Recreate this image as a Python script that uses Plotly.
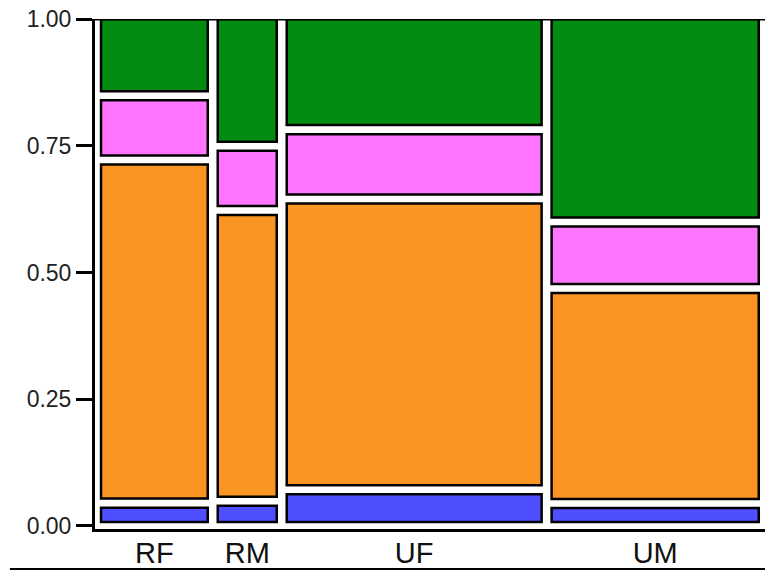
import plotly.graph_objects as go

# Mosaic of four groups; each column is split into four stacked levels.
groups = ["RF", "RM", "UF", "UM"]
group_share = [0.170, 0.094, 0.406, 0.330]  # relative column widths

# Conditional proportions within each group, bottom to top
level_names = ["Level 1", "Level 2", "Level 3", "Level 4"]
level1 = [0.030, 0.034, 0.058, 0.029]
level2 = [0.702, 0.592, 0.592, 0.433]
level3 = [0.116, 0.116, 0.127, 0.121]
level4 = [0.152, 0.258, 0.223, 0.417]
level_colors = ["#4F4FFF", "#FA9423", "#FF75FF", "#038C12"]

tick_vals = [0, 0.25, 0.5, 0.75, 1.0]
tick_text = ["0.00", "0.25", "0.50", "0.75", "1.00"]

# Spacing between tiles (in axis units)
x_start, x_gap, x_span = 0.009, 0.0149, 0.937
y_start, y_gap = 0.008, 0.0178
y_span = 1.0 - y_start - 3 * y_gap

# Column geometry
total_share = sum(group_share)
widths, centers = [], []
pos = x_start
for s in group_share:
    w = s / total_share * x_span
    widths.append(w)
    centers.append(pos + w / 2)
    pos += w + x_gap

levels = [level1, level2, level3, level4]
fig = go.Figure()
for j, col in enumerate(levels):
    bases, heights = [], []
    for g in range(len(groups)):
        col_total = sum(lv[g] for lv in levels)
        below = sum(levels[k][g] for k in range(j)) / col_total
        bases.append(y_start + below * y_span + j * y_gap)
        heights.append(col[g] / col_total * y_span)
    fig.add_trace(go.Bar(
        x=centers, y=heights, base=bases, width=widths,
        name=level_names[j], showlegend=False,
        marker=dict(color=level_colors[j], line=dict(color="black", width=2.5)),
    ))

font_family = "Liberation Sans, Arial, sans-serif"
fig.update_layout(
    width=765, height=571,
    margin=dict(l=95, r=0, t=19, b=42),
    barmode="overlay",
    plot_bgcolor="white", paper_bgcolor="white",
    font=dict(family=font_family, color="#222222"),
    xaxis=dict(
        range=[0, 1], showgrid=False, zeroline=False, automargin=False,
        showline=True, linecolor="black", linewidth=3,
        tickvals=centers, ticktext=groups, ticks="",
        ticklabelstandoff=-4,
        tickfont=dict(size=29, color="#111111"),
        fixedrange=True,
    ),
    yaxis=dict(
        range=[-0.006, 1.0], showgrid=False, zeroline=False, automargin=False,
        showline=True, linecolor="black", linewidth=3,
        tickvals=tick_vals, ticktext=tick_text,
        ticks="outside", ticklen=16, tickwidth=3, tickcolor="black",
        tickfont=dict(size=23, color="#222222"),
        fixedrange=True,
    ),
    shapes=[
        dict(type="line", xref="paper", yref="y", x0=0, x1=1, y0=1.0, y1=1.0,
             line=dict(color="black", width=3)),
        dict(type="line", xref="paper", yref="paper", x0=-0.127, x1=1,
             y0=-0.0784, y1=-0.0784, line=dict(color="black", width=2)),
    ],
)

fig.write_html("out.html")
